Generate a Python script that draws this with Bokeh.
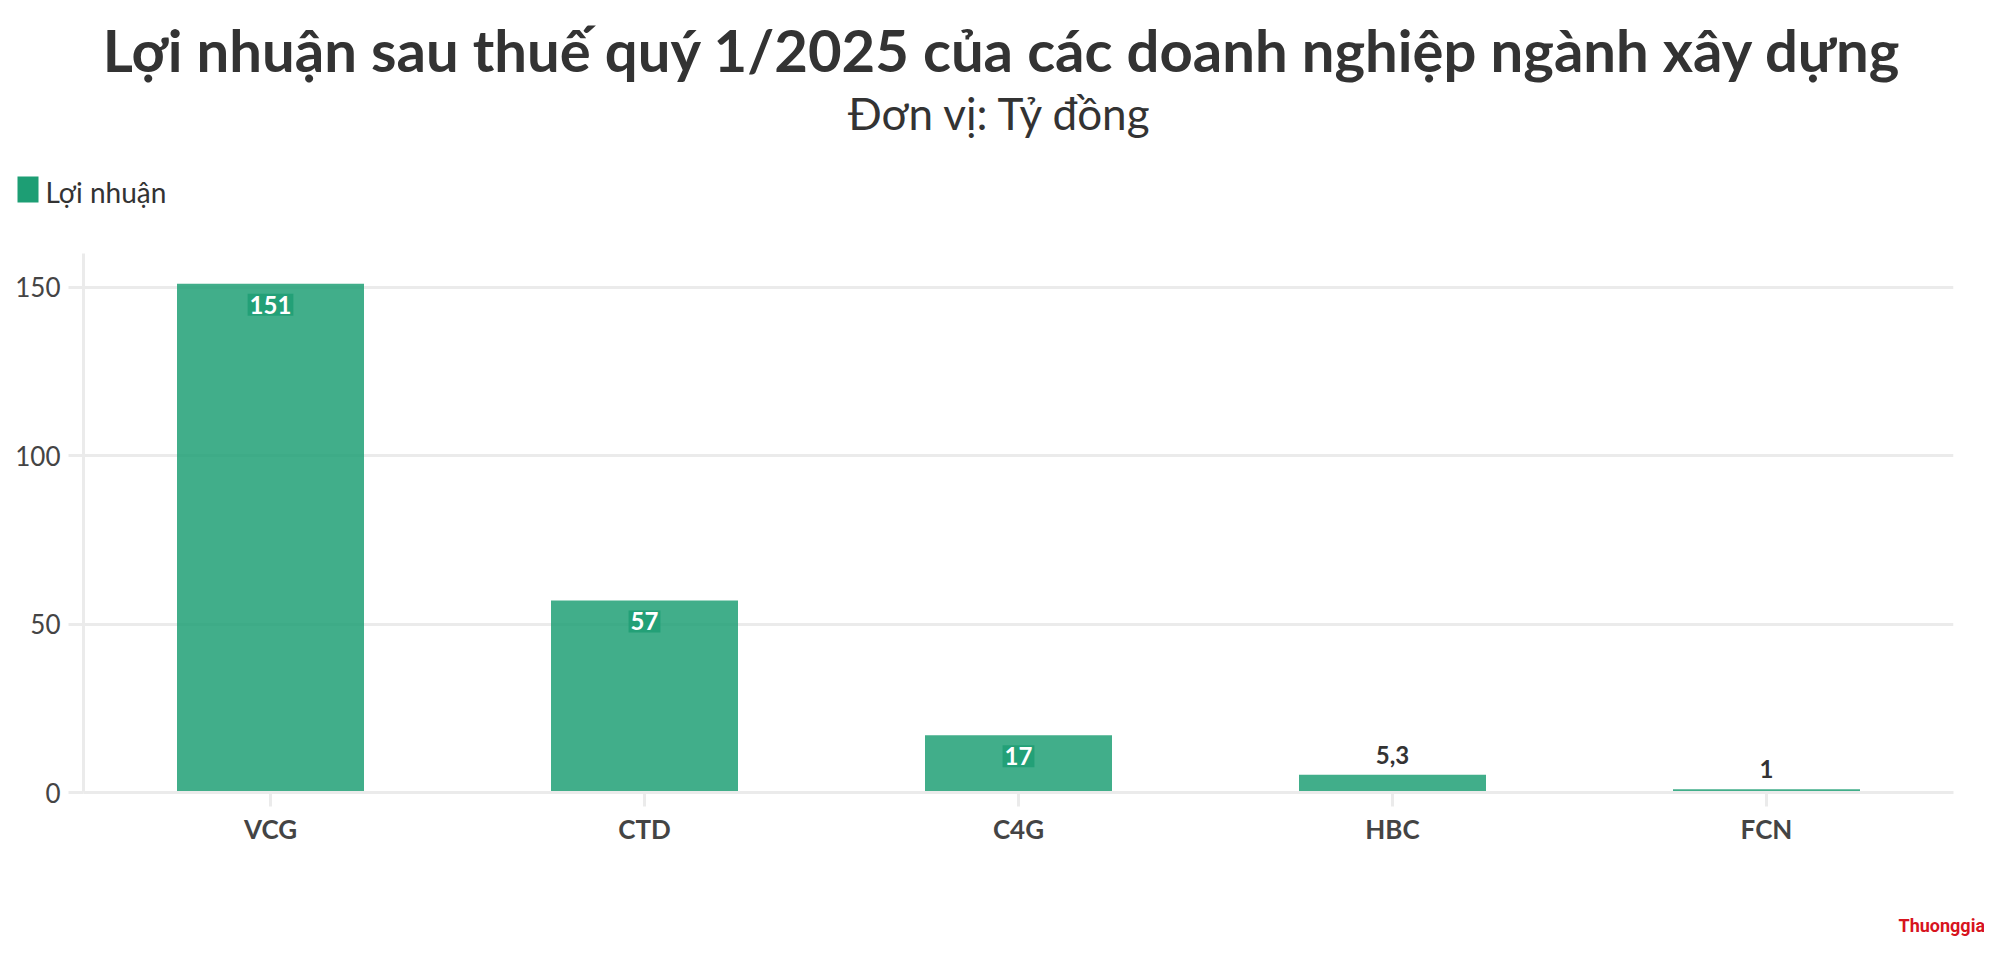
from bokeh.plotting import figure
from bokeh.layouts import column, row
from bokeh.models import ColumnDataSource, FactorRange, Range1d, FixedTicker
from bokeh.core.properties import value
from bokeh.embed import file_html
from bokeh.resources import INLINE

# ---- data ----
companies = ["VCG", "CTD", "C4G", "HBC", "FCN"]
profits = [151, 57, 17, 5.3, 1]
y_ticks = [0, 50, 100, 150]
title_text = "Lợi nhuận sau thuế quý 1/2025 của các doanh nghiệp ngành xây dựng"
subtitle_text = "Đơn vị: Tỷ đồng"
series_name = "Lợi nhuận"
logo_text = "Thuonggia"

def fmt(v):
    return f"{v:g}".replace(".", ",")

labels = [fmt(v) for v in profits]

W = 1984
H_HEAD, H_MAIN, H_FOOT = 253, 627, 61
FONT = "Lato"
BAR = "#1d9e74"
GRID = "#ebebeb"

def blank(h):
    f = figure(width=W, height=h, x_range=Range1d(0, W), y_range=Range1d(0, h),
               x_axis_type=None, y_axis_type=None,
               output_backend="svg", toolbar_location=None, tools="", title=None)
    f.min_border = 0
    f.grid.visible = False
    f.outline_line_color = None
    return f

# ---- header: title, subtitle, legend (positions measured from top) ----
head = blank(H_HEAD)
def hy(v):
    return H_HEAD - v
head.text(x=[1002], y=[hy(49)], text=[title_text], text_font=value(FONT), text_font_style="bold",
          text_font_size="58px", text_color="#333333", text_align="center",
          text_baseline="middle")
head.text(x=[1000], y=[hy(112)], text=[subtitle_text], text_font=value(FONT),
          text_font_size="44px", text_color="#333333", text_align="center",
          text_baseline="middle")
head.quad(left=[17], right=[38], top=[hy(176)], bottom=[hy(202)], fill_color=BAR, line_color=None)
head.text(x=[45], y=[hy(191)], text=[series_name], text_font=value(FONT), text_font_size="28px",
          text_color="#333333", text_align="left", text_baseline="middle")

# ---- main chart ----
p = figure(width=W, height=H_MAIN, x_range=FactorRange(*companies), y_range=Range1d(0, 160),
           output_backend="svg", toolbar_location=None, tools="", title=None)
p.min_border_left = 83
p.min_border_right = W - 1953
p.min_border_top = 0
p.min_border_bottom = H_MAIN - 539
p.outline_line_color = None

src = ColumnDataSource(dict(x=companies, top=profits, lab=labels))
p.vbar(x="x", top="top", width=0.5, source=src, fill_color=BAR, fill_alpha=0.84,
       line_color=None)

inside = [i for i, v in enumerate(profits) if v > 10]
outside = [i for i, v in enumerate(profits) if v <= 10]
src_in = ColumnDataSource(dict(x=[companies[i] for i in inside], y=[profits[i] for i in inside],
                               t=[labels[i] for i in inside]))
src_out = ColumnDataSource(dict(x=[companies[i] for i in outside], y=[profits[i] for i in outside],
                                t=[labels[i] for i in outside]))
p.text(x="x", y="y", text="t", source=src_in, text_font=value(FONT), text_font_style="bold",
       text_font_size="24px", text_color="white", text_align="center", text_baseline="middle",
       y_offset=21, background_fill_color="#23a077", padding=2)
p.text(x="x", y="y", text="t", source=src_out, text_font=value(FONT), text_font_style="bold",
       text_font_size="24px", text_color="#333333", text_align="center", text_baseline="middle",
       y_offset=-20)

p.xgrid.grid_line_color = None
p.ygrid.grid_line_color = GRID
p.ygrid.grid_line_width = 3
p.yaxis.ticker = FixedTicker(ticks=y_ticks)
for ax in (p.xaxis[0], p.yaxis[0]):
    ax.axis_line_color = GRID
    ax.axis_line_width = 3
    ax.major_tick_line_color = GRID
    ax.major_tick_line_width = 3
    ax.major_tick_in = 0
    ax.minor_tick_line_color = None
    ax.major_label_text_font = FONT
    ax.major_label_text_color = "#444444"
p.xaxis.major_tick_out = 14
p.xaxis.major_label_text_font_style = "bold"
p.xaxis.major_label_text_font_size = "26px"
p.xaxis.major_label_standoff = 6
p.yaxis.major_tick_out = 15
p.yaxis.major_label_text_font_size = "26px"
p.yaxis.major_label_standoff = 8

# ---- footer: logo ----
foot = blank(H_FOOT)
foot.text(x=[1898], y=[H_FOOT - 45], text=[logo_text], text_font=value("Roboto"),
          text_font_style="bold", text_font_size="18px", text_color="#d7141e",
          text_align="left", text_baseline="middle")

layout = column(row(head), p, row(foot), spacing=0)
open("out.html", "w").write(file_html(layout, INLINE))
